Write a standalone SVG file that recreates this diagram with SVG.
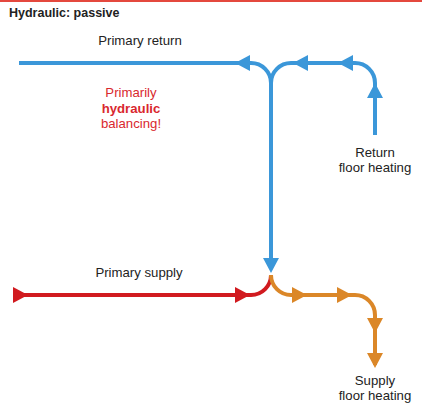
<svg xmlns="http://www.w3.org/2000/svg" xmlns:xlink="http://www.w3.org/1999/xlink" width="422" height="406" viewBox="0 0 422 406">
<style>
text{font-family:"Liberation Sans",Arial,sans-serif;font-size:13.2px;fill:#222}
.c{text-anchor:middle}
.b{font-weight:bold}
.red{fill:#d9282e}
.pipe{fill:none;stroke-width:4}
.blue{stroke:#3b97d9}.bluef{fill:#3b97d9}
.redl{stroke:#d11a1f}.redf{fill:#d11a1f}
.or{stroke:#db8728}.orf{fill:#db8728}
</style>
<defs>
<path id="arr" d="M0,0 L-15,-8 L-15,8 Z"/>
</defs>
<rect x="0" y="0" width="422" height="2" fill="#e4483e"/>
<text x="9" y="17" class="b" style="font-size:12.5px">Hydraulic: passive</text>
<g id="labels">
<text x="140" y="45" class="c">Primary return</text>
<text x="131" y="97" class="c red">Primarily</text>
<text x="131" y="113" class="c red b">hydraulic</text>
<text x="131" y="128" class="c red">balancing!</text>
<text x="139" y="277" class="c">Primary supply</text>
</g>
<g id="return-floor"><text x="375" y="157" class="c">Return</text><text x="375" y="172" class="c">floor heating</text></g>
<g id="supply-floor"><text x="375" y="385" class="c">Supply</text><text x="375" y="400" class="c">floor heating</text></g>
<g id="connectors">
<path class="pipe blue" d="M19,63 H251 A20,20 0 0 1 271,83 V260"/>
<path class="pipe blue" d="M271,83 A20,20 0 0 1 291,63 H355 A20,20 0 0 1 375,83 V135"/>
<path class="pipe redl" d="M14,295 H251 A20,20 0 0 0 271,275"/>
<path class="pipe or" d="M271,275 A20,20 0 0 0 291,295 H355 A20,20 0 0 1 375,315 V365"/>
<g class="bluef">
<use xlink:href="#arr" transform="translate(235,63) rotate(180)"/>
<use xlink:href="#arr" transform="translate(293,63) rotate(180)"/>
<use xlink:href="#arr" transform="translate(338,63) rotate(180)"/>
<use xlink:href="#arr" transform="translate(375,83) rotate(-90)"/>
<use xlink:href="#arr" transform="translate(271,273) rotate(90)"/>
</g>
<g class="redf">
<use xlink:href="#arr" transform="translate(28,295)"/>
<use xlink:href="#arr" transform="translate(250,295)"/>
</g>
<g class="orf">
<use xlink:href="#arr" transform="translate(307,295)"/>
<use xlink:href="#arr" transform="translate(352,295)"/>
<use xlink:href="#arr" transform="translate(375,333) rotate(90)"/>
<use xlink:href="#arr" transform="translate(375,368) rotate(90)"/>
</g>
</g>
</svg>
